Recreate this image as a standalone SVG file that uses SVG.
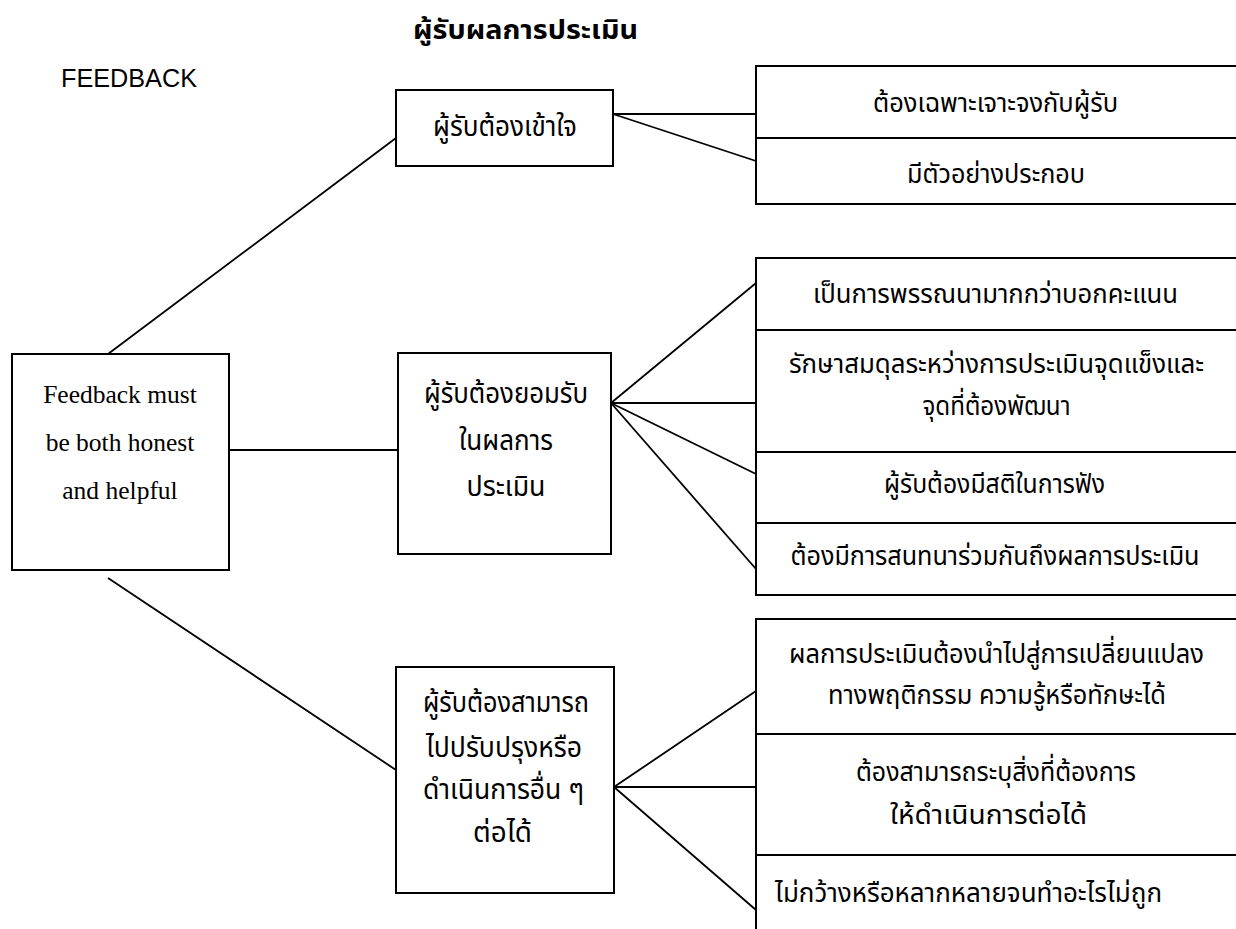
<svg xmlns="http://www.w3.org/2000/svg" width="1236" height="929" viewBox="0 0 1236 929">
<style>
.box{fill:#fff;stroke:#000;stroke-width:2}
.ln{stroke:#000;stroke-width:1.8;fill:none}
.th{font-family:"Noto Sans Thai","Noto Sans",sans-serif;font-size:27px;fill:#000;text-anchor:middle}
.mid{font-size:28px}
.en{font-family:"Liberation Serif",serif;font-size:25.5px;fill:#000;text-anchor:middle}
</style>
<rect width="1236" height="929" fill="#fff"/>
<g id="title">
<text x="525.5" y="39" class="th" style="font-weight:bold;font-size:27px" textLength="225" lengthAdjust="spacingAndGlyphs">ผู้รับผลการประเมิน</text>
<text x="61" y="87" style="font-family:'Liberation Sans',sans-serif;font-size:25px" textLength="136" lengthAdjust="spacingAndGlyphs">FEEDBACK</text>
</g>
<g id="connectors">
<line class="ln" x1="108" y1="354" x2="396" y2="138"/>
<line class="ln" x1="229" y1="450" x2="398" y2="450"/>
<line class="ln" x1="108" y1="578" x2="396" y2="770"/>
<line class="ln" x1="613" y1="114" x2="756" y2="114"/>
<line class="ln" x1="613" y1="114" x2="756" y2="161"/>
<line class="ln" x1="611" y1="403" x2="756" y2="283"/>
<line class="ln" x1="611" y1="403" x2="756" y2="403"/>
<line class="ln" x1="611" y1="403" x2="756" y2="474"/>
<line class="ln" x1="611" y1="403" x2="756" y2="569"/>
<line class="ln" x1="614" y1="787" x2="756" y2="691"/>
<line class="ln" x1="614" y1="787" x2="756" y2="787"/>
<line class="ln" x1="614" y1="787" x2="756" y2="910"/>
</g>
<g id="root">
<rect class="box" x="12" y="354" width="217" height="216"/>
<text class="en" x="120" y="403">Feedback must</text>
<text class="en" x="120" y="451">be both honest</text>
<text class="en" x="120" y="499">and helpful</text>
</g>
<g id="understand">
<rect class="box" x="396" y="90" width="217" height="76"/>
<text class="th mid" x="505" y="136" textLength="144" lengthAdjust="spacingAndGlyphs">ผู้รับต้องเข้าใจ</text>
</g>
<g id="accept">
<rect class="box" x="398" y="353" width="213" height="201"/>
<text class="th mid" x="506" y="403" textLength="164" lengthAdjust="spacingAndGlyphs">ผู้รับต้องยอมรับ</text>
<text class="th mid" x="506" y="450" textLength="94" lengthAdjust="spacingAndGlyphs">ในผลการ</text>
<text class="th mid" x="506" y="496" textLength="79" lengthAdjust="spacingAndGlyphs">ประเมิน</text>
</g>
<g id="improve">
<rect class="box" x="396" y="667" width="218" height="226"/>
<text class="th mid" x="506" y="712" textLength="166" lengthAdjust="spacingAndGlyphs">ผู้รับต้องสามารถ</text>
<text class="th mid" x="504" y="757" textLength="156" lengthAdjust="spacingAndGlyphs">ไปปรับปรุงหรือ</text>
<text class="th mid" x="503.5" y="799" textLength="161" lengthAdjust="spacingAndGlyphs">ดำเนินการอื่น ๆ</text>
<text class="th mid" x="502.5" y="842" textLength="59" lengthAdjust="spacingAndGlyphs">ต่อได้</text>
</g>
<g id="u1">
<rect class="box" x="756" y="66" width="482" height="72"/>
<text class="th" x="995.5" y="112" textLength="245" lengthAdjust="spacingAndGlyphs">ต้องเฉพาะเจาะจงกับผู้รับ</text>
</g>
<g id="u2">
<rect class="box" x="756" y="138" width="482" height="66"/>
<text class="th" x="996" y="183" textLength="178" lengthAdjust="spacingAndGlyphs">มีตัวอย่างประกอบ</text>
</g>
<g id="a1">
<rect class="box" x="756" y="258" width="482" height="72"/>
<text class="th" x="995.5" y="303" textLength="365" lengthAdjust="spacingAndGlyphs">เป็นการพรรณนามากกว่าบอกคะแนน</text>
</g>
<g id="a2">
<rect class="box" x="756" y="330" width="482" height="122"/>
<text class="th" x="996.5" y="373" textLength="415" lengthAdjust="spacingAndGlyphs">รักษาสมดุลระหว่างการประเมินจุดแข็งและ</text>
<text class="th" x="996.5" y="415" textLength="148" lengthAdjust="spacingAndGlyphs">จุดที่ต้องพัฒนา</text>
</g>
<g id="a3">
<rect class="box" x="756" y="452" width="482" height="71"/>
<text class="th" x="994.5" y="493" textLength="221" lengthAdjust="spacingAndGlyphs">ผู้รับต้องมีสติในการฟัง</text>
</g>
<g id="a4">
<rect class="box" x="756" y="523" width="482" height="72"/>
<text class="th" x="995" y="565" textLength="409" lengthAdjust="spacingAndGlyphs">ต้องมีการสนทนาร่วมกันถึงผลการประเมิน</text>
</g>
<g id="i1">
<rect class="box" x="756" y="619" width="482" height="115"/>
<text class="th" x="996.5" y="663" textLength="415" lengthAdjust="spacingAndGlyphs">ผลการประเมินต้องนำไปสู่การเปลี่ยนแปลง</text>
<text class="th" x="997" y="704" textLength="338" lengthAdjust="spacingAndGlyphs">ทางพฤติกรรม ความรู้หรือทักษะได้</text>
</g>
<g id="i2">
<rect class="box" x="756" y="734" width="482" height="121"/>
<text class="th" x="996" y="781" textLength="280" lengthAdjust="spacingAndGlyphs">ต้องสามารถระบุสิ่งที่ต้องการ</text>
<text class="th" x="988.5" y="824" textLength="197" lengthAdjust="spacingAndGlyphs">ให้ดำเนินการต่อได้</text>
</g>
<g id="i3">
<rect class="box" x="756" y="855" width="482" height="80"/>
<text class="th" x="775" y="902" style="text-anchor:start" textLength="387" lengthAdjust="spacingAndGlyphs">ไม่กว้างหรือหลากหลายจนทำอะไรไม่ถูก</text>
</g>
</svg>
